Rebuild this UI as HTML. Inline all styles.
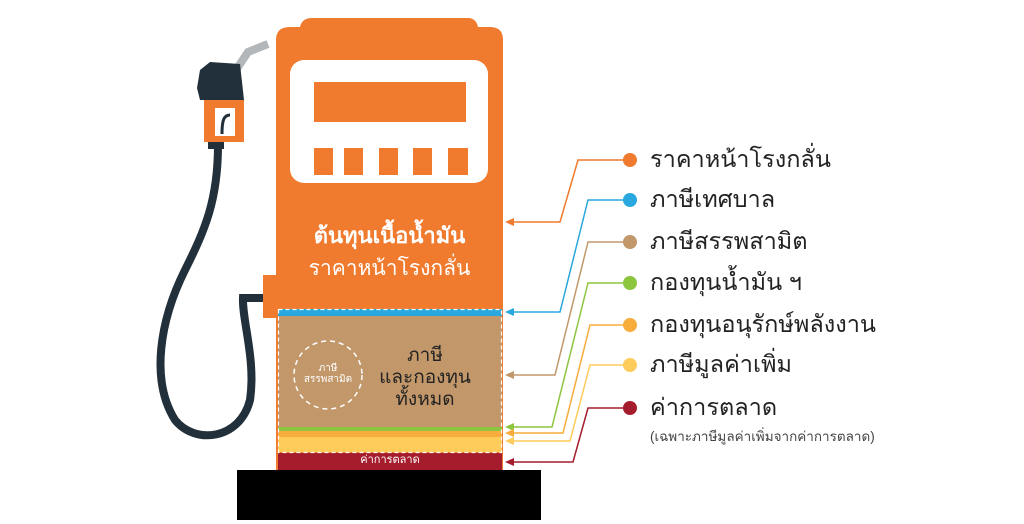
<!DOCTYPE html>
<html><head><meta charset="utf-8"><style>
body{margin:0;width:1024px;height:524px;background:#fff;overflow:hidden;position:relative;font-family:"Liberation Sans","Noto Sans CJK SC",sans-serif}
.l{position:absolute;left:650px;font-size:23.5px;color:#222;white-space:nowrap;line-height:1}
</style></head><body>
<svg width="1024" height="524" style="position:absolute;left:0;top:0">
<path d="M218,145 C218,200 205,230 185,270 C160,320 150,380 175,420 C195,445 240,440 250,400 C256,360 242,320 243,298 L265,298" fill="none" stroke="#22303b" stroke-width="8"/>
<path d="M236,70 L248,52 L268,44" fill="none" stroke="#b3b7ba" stroke-width="8"/>
<path d="M200,70 L210,62 L240,64 L244,100 L200,100 L197,88 Z" fill="#22303b"/>
<rect x="204" y="100" width="40" height="42" fill="#f07a2e"/>
<rect x="215" y="108" width="20" height="28" fill="#fff"/>
<path d="M230,115 C224,115 222,120 222,134" fill="none" stroke="#22303b" stroke-width="3"/>
<rect x="208" y="142" width="16" height="7" fill="#22303b"/>
<path d="M276,40 Q276,27 290,27 L300,27 Q302,18 312,18 L468,18 Q476,18 478,27 L490,27 Q503,27 503,40 L503,470 L276,470 Z" fill="#f07a2e"/>
<rect x="263" y="275" width="15" height="43" fill="#f07a2e"/>
<rect x="290" y="60" width="198" height="123" rx="14" fill="#fff"/>
<rect x="314" y="82" width="152" height="40" fill="#f07a2e"/>
<rect x="314" y="148" width="19" height="27" fill="#f07a2e"/>
<rect x="344" y="148" width="19" height="27" fill="#f07a2e"/>
<rect x="379" y="148" width="19" height="27" fill="#f07a2e"/>
<rect x="413" y="148" width="19" height="27" fill="#f07a2e"/>
<rect x="448" y="148" width="20" height="27" fill="#f07a2e"/>
<rect x="278" y="309" width="224" height="7" fill="#29a8e0"/>
<rect x="278" y="316" width="224" height="111" fill="#c2976a"/>
<rect x="278" y="427" width="224" height="4" fill="#8cc63f"/>
<rect x="278" y="431" width="224" height="6" fill="#f8ac3b"/>
<rect x="278" y="437" width="224" height="15" fill="#fdcc5a"/>
<rect x="278" y="453" width="224" height="17" fill="#a51d2d"/>
<rect x="278.5" y="309.5" width="223" height="143" fill="none" stroke="#fff" stroke-width="1.2" stroke-dasharray="4,3"/>
<circle cx="328" cy="375" r="34" fill="none" stroke="#fff" stroke-width="1.5" stroke-dasharray="5,4"/>
<rect x="237" y="470" width="304" height="50" fill="#000"/>
<g fill="none" stroke-width="1.5">
<path d="M630,160 L578,160 L560,222 L507,222" stroke="#f07a2e"/>
<path d="M630,200 L588,200 L560,312 L507,312" stroke="#29a8e0"/>
<path d="M630,242 L588,242 L555,375 L507,375" stroke="#c2976a"/>
<path d="M630,283 L588,283 L552,427 L507,427" stroke="#8cc63f"/>
<path d="M630,325 L590,325 L563,433 L507,433" stroke="#f8ac3b"/>
<path d="M630,365 L590,365 L570,441 L507,441" stroke="#fdcc5a"/>
<path d="M630,408 L588,408 L573,462 L507,462" stroke="#a51d2d"/>
</g>
<g>
<path d="M505,222 l9,-4 v8z" fill="#f07a2e"/>
<path d="M505,312 l9,-4 v8z" fill="#29a8e0"/>
<path d="M505,375 l9,-4 v8z" fill="#c2976a"/>
<path d="M505,427 l9,-4 v8z" fill="#8cc63f"/>
<path d="M505,433 l9,-4 v8z" fill="#f8ac3b"/>
<path d="M505,441 l9,-4 v8z" fill="#fdcc5a"/>
<path d="M505,462 l9,-4 v8z" fill="#a51d2d"/>
</g>
<circle cx="630" cy="160" r="7" fill="#f07a2e"/>
<circle cx="630" cy="200" r="7" fill="#29a8e0"/>
<circle cx="630" cy="242" r="7" fill="#c2976a"/>
<circle cx="630" cy="283" r="7" fill="#8cc63f"/>
<circle cx="630" cy="325" r="7" fill="#f8ac3b"/>
<circle cx="630" cy="365" r="7" fill="#fdcc5a"/>
<circle cx="630" cy="408" r="7" fill="#a51d2d"/>
</svg>
<div style="position:absolute;left:276px;width:227px;top:225px;text-align:center;color:#fff;font-size:22px;font-weight:bold;line-height:1">ต้นทุนเนื้อน้ำมัน</div>
<div style="position:absolute;left:276px;width:227px;top:258px;text-align:center;color:#fff;font-size:21px;line-height:1">ราคาหน้าโรงกลั่น</div>
<div style="position:absolute;left:294px;width:68px;top:363px;text-align:center;color:#fff;font-size:10px;line-height:1.1">ภาษี<br>สรรพสามิต</div>
<div style="position:absolute;left:370px;width:110px;top:345px;text-align:center;color:#222;font-size:19px;line-height:1.15">ภาษี<br>และกองทุน<br>ทั้งหมด</div>
<div style="position:absolute;left:278px;width:224px;top:455px;text-align:center;color:#fff;font-size:11px;line-height:1">ค่าการตลาด</div>
<div class="l" style="top:148px">ราคาหน้าโรงกลั่น</div>
<div class="l" style="top:188px">ภาษีเทศบาล</div>
<div class="l" style="top:230px">ภาษีสรรพสามิต</div>
<div class="l" style="top:271px">กองทุนน้ำมัน ฯ</div>
<div class="l" style="top:313px">กองทุนอนุรักษ์พลังงาน</div>
<div class="l" style="top:353px">ภาษีมูลค่าเพิ่ม</div>
<div class="l" style="top:396px">ค่าการตลาด</div>
<div style="position:absolute;left:650px;top:425px;font-size:13.5px;color:#444;white-space:nowrap">(เฉพาะภาษีมูลค่าเพิ่มจากค่าการตลาด)</div>
</body></html>
